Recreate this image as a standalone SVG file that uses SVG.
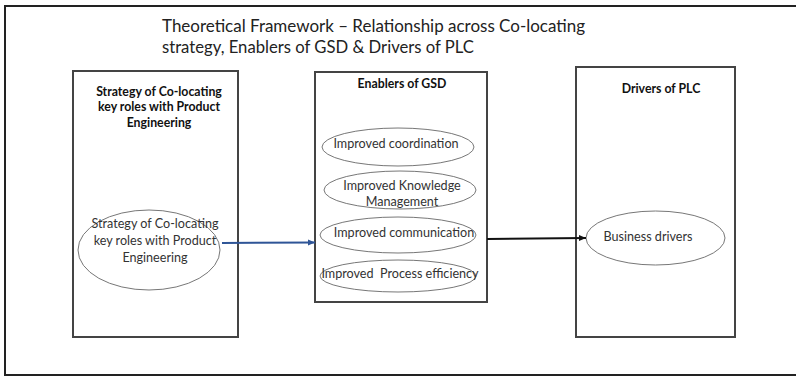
<svg xmlns="http://www.w3.org/2000/svg" width="796" height="377" viewBox="0 0 796 377">
<style>
.frame{fill:none;stroke:#222;stroke-width:2}
.box{fill:#fff;stroke:#444;stroke-width:2}
.ell{fill:#fff;stroke:#777;stroke-width:1}
.title{font-family:Lato,"Liberation Sans",sans-serif;font-size:18px;fill:#222}
.head{font-family:Lato,"Liberation Sans",sans-serif;font-size:12.3px;font-weight:bold;fill:#111;text-anchor:middle}
.lbl{font-family:Lato,"Liberation Sans",sans-serif;font-size:12.6px;fill:#333;text-anchor:middle}
</style>
<defs>
<marker id="ab" markerWidth="8" markerHeight="8" refX="7" refY="4" orient="auto" markerUnits="userSpaceOnUse"><path d="M0,1 L7,4 L0,7 Z" fill="#2F5597"/></marker>
<marker id="ak" markerWidth="8" markerHeight="8" refX="7" refY="4" orient="auto" markerUnits="userSpaceOnUse"><path d="M0,1 L7,4 L0,7 Z" fill="#111"/></marker>
</defs>
<rect width="796" height="377" fill="#fff"/>
<rect class="frame" x="5" y="6" width="800" height="369"/>
<text class="title" x="162" y="32" textLength="423" lengthAdjust="spacingAndGlyphs">Theoretical Framework – Relationship across Co-locating</text>
<text class="title" x="162" y="53" textLength="312" lengthAdjust="spacingAndGlyphs">strategy, Enablers of GSD &amp; Drivers of PLC</text>
<g id="strategy">
<rect class="box" x="73" y="71" width="165" height="266"/>
<text class="head" x="159" y="96">Strategy of Co-locating</text>
<text class="head" x="159" y="111">key roles with Product</text>
<text class="head" x="159" y="127">Engineering</text>
<ellipse class="ell" cx="149" cy="250" rx="71" ry="40"/>
<text class="lbl" x="155" y="228">Strategy of Co-locating</text>
<text class="lbl" x="155" y="245">key roles with Product</text>
<text class="lbl" x="155" y="262">Engineering</text>
</g>
<g id="enablers">
<rect class="box" x="315" y="72" width="172" height="230"/>
<text class="head" x="402" y="88">Enablers of GSD</text>
<ellipse class="ell" cx="398" cy="147" rx="76" ry="19"/>
<text class="lbl" x="396" y="148">Improved coordination</text>
<ellipse class="ell" cx="400" cy="190" rx="76" ry="19"/>
<text class="lbl" x="402" y="190">Improved Knowledge</text>
<text class="lbl" x="402" y="206">Management</text>
<ellipse class="ell" cx="398" cy="235" rx="78" ry="18"/>
<text class="lbl" x="404" y="237">Improved communication</text>
<ellipse class="ell" cx="398" cy="276" rx="78" ry="16"/>
<text class="lbl" x="400" y="278" xml:space="preserve">Improved  Process efficiency</text>
</g>
<g id="drivers">
<rect class="box" x="576" y="67" width="159" height="270"/>
<text class="head" x="661" y="93">Drivers of PLC</text>
<ellipse class="ell" cx="655.5" cy="238" rx="69.5" ry="27"/>
<text class="lbl" x="648" y="241">Business drivers</text>
</g>
<g id="connectors">
<line x1="222" y1="243" x2="315" y2="242.5" stroke="#2F5597" stroke-width="2" marker-end="url(#ab)"/>
<line x1="487" y1="239" x2="586" y2="238" stroke="#111" stroke-width="2" marker-end="url(#ak)"/>
</g>
</svg>
